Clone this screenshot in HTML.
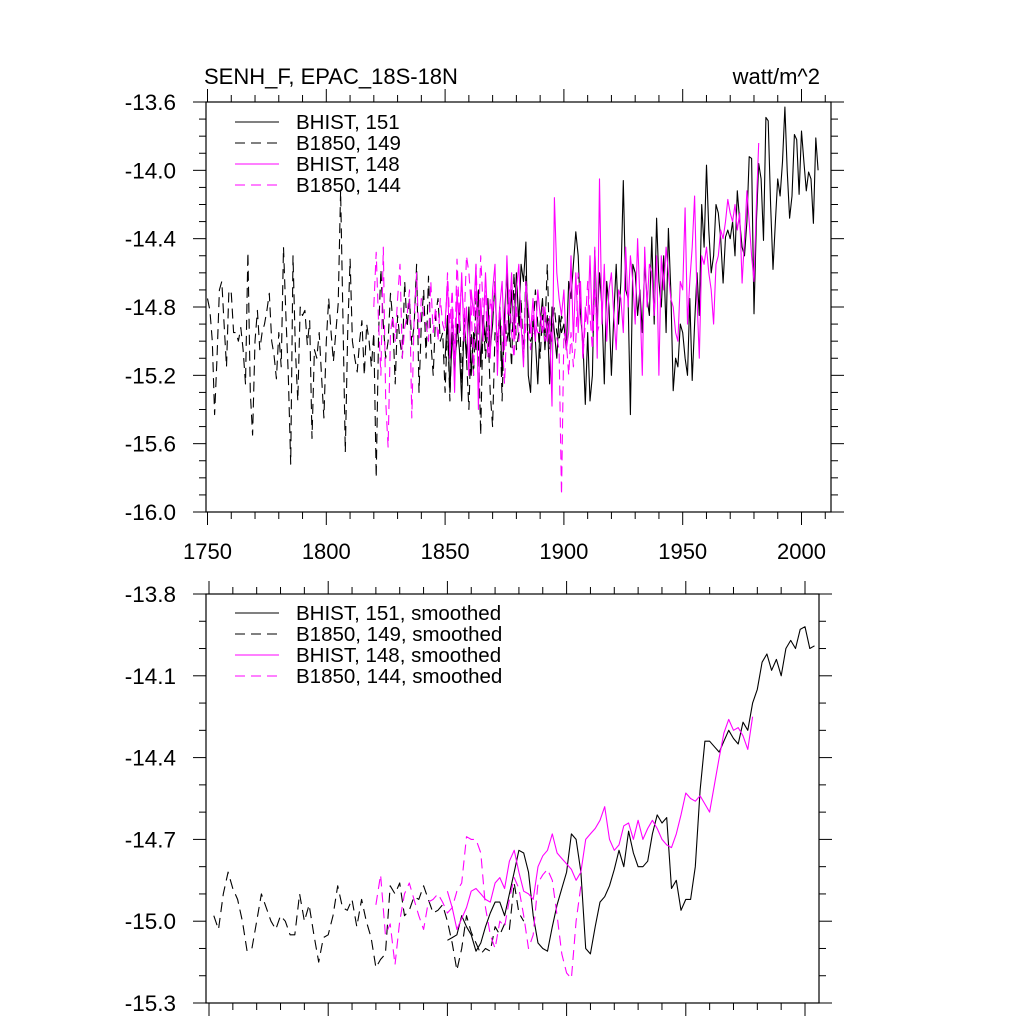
<!DOCTYPE html>
<html><head><meta charset="utf-8"><style>
html,body{margin:0;padding:0;background:#fff;}
svg{display:block;font-family:"Liberation Sans",sans-serif;}
</style></head><body>
<svg id="chart" width="1024" height="1024" viewBox="0 0 1024 1024" xmlns="http://www.w3.org/2000/svg">
<defs>
<clipPath id="clipTop"><rect x="206" y="102" width="625" height="410"/></clipPath>
<clipPath id="clipBot"><rect x="206" y="594" width="613" height="409"/></clipPath>
</defs>
<text x="204" y="84" font-size="22">SENH_F, EPAC_18S-18N</text>
<text x="820" y="84" font-size="22" text-anchor="end">watt/m^2</text>
<g id="top"></g>
<g id="bot"></g>
</svg>
<script>
// ---- top panel data (annual) ----
const b149Start = 1750;
const b149Vals = [-14.75,-14.82,-15.0,-15.43,-15.1,-14.7,-14.65,-14.9,-15.15,-14.7,
-14.72,-14.95,-14.95,-15.0,-14.92,-15.05,-15.25,-14.48,-15.3,-15.55,
-15.0,-14.82,-15.05,-14.95,-14.9,-14.82,-14.72,-15.0,-15.08,-15.22,
-14.95,-15.15,-14.45,-14.85,-15.2,-15.72,-14.5,-15.05,-15.35,-14.8,
-14.85,-14.82,-15.02,-14.88,-15.57,-15.05,-15.1,-14.95,-15.2,-15.45,
-15.0,-14.75,-14.95,-15.12,-14.95,-14.78,-14.12,-14.85,-15.65,-14.95,
-14.52,-15.0,-15.1,-15.18,-15.0,-14.88,-15.2,-14.9,-15.0,-15.15,
-14.95,-15.8,-14.95,-14.58,-14.9,-15.1,-15.0,-14.72,-14.88,-15.25,
-14.85,-15.0,-15.1,-14.65,-14.92,-14.75,-15.02,-14.9,-14.55,-15.3,
-14.9,-14.7,-15.1,-14.62,-15.0,-15.2,-14.85,-14.75,-15.0,-14.95,
-15.3,-14.9,-15.35,-14.85,-15.1,-15.0,-14.78,-15.25,-14.85,-15.1,
-15.4,-14.95,-15.2,-14.75,-15.0,-15.55,-14.85,-15.1,-14.9,-15.3,
-15.5,-14.95,-15.05,-14.8,-15.35,-14.85,-15.0,-14.9,-15.15,-14.6,
-15.05,-14.95,-14.75,-15.1,-14.6,-14.85,-15.0,-14.95,-14.7,-14.9,
-15.1,-14.85,-14.95,-14.55,-15.05,-14.9,-14.8,-14.95,-15.0,-14.85,-14.9];
const b144Start = 1820;
const b144Vals = [-14.8,-14.48,-14.9,-15.2,-14.45,-15.35,-15.62,-14.95,-14.85,-15.0,
-14.75,-14.55,-15.1,-14.92,-14.85,-14.7,-15.45,-14.85,-14.6,-15.0,
-14.75,-14.85,-14.9,-15.0,-14.65,-14.95,-14.8,-15.0,-14.75,-14.9,
-14.95,-14.6,-14.9,-14.7,-15.1,-14.52,-14.85,-14.65,-14.9,-14.5,
-14.6,-14.8,-15.2,-14.55,-14.95,-14.5,-14.8,-14.7,-15.1,-14.75,
-14.85,-14.65,-15.05,-14.8,-14.95,-15.25,-14.9,-14.7,-14.95,-15.1,
-14.8,-15.0,-14.85,-15.1,-14.9,-14.95,-15.05,-14.85,-14.9,-14.95,
-14.95,-14.8,-15.0,-14.92,-14.85,-15.0,-15.0,-14.98,-15.05,-15.9,
-14.95,-15.0,-15.2,-14.95,-15.15,-15.0,-14.6,-14.75,-15.1,-14.9,-14.65,-14.85,-15.05,-14.7,-14.95,-14.9];
const h151Start = 1850;
const h151Vals = [-15.1,-14.85,-15.3,-14.95,-15.2,-14.9,-15.05,-15.35,-14.9,-15.1,
-14.8,-15.2,-14.95,-15.05,-14.7,-15.15,-14.85,-15.0,-14.75,-15.05,
-14.9,-14.65,-15.1,-14.8,-15.2,-14.85,-14.6,-15.0,-14.7,-14.95,
-14.6,-14.9,-14.55,-14.65,-14.42,-15.2,-15.3,-14.85,-15.0,-15.25,
-14.9,-14.75,-15.05,-14.85,-15.25,-14.8,-14.95,-15.1,-14.85,-14.95,
-14.9,-15.05,-14.65,-14.75,-14.55,-14.36,-14.5,-14.85,-15.0,-15.37,
-14.95,-15.35,-15.2,-14.47,-14.9,-14.6,-14.8,-15.25,-14.65,-14.8,
-15.2,-14.85,-14.55,-14.9,-14.65,-14.06,-14.7,-14.75,-15.43,-14.55,
-14.6,-14.85,-14.7,-14.95,-14.55,-14.75,-14.85,-14.39,-14.9,-14.28,
-14.65,-14.8,-14.5,-14.95,-14.34,-14.7,-15.29,-15.1,-15.15,-14.9,
-14.95,-15.1,-15.2,-14.75,-15.23,-14.9,-14.6,-14.85,-14.2,-14.45,
-13.97,-14.35,-14.6,-14.5,-14.2,-14.25,-14.4,-14.66,-14.39,-14.35,
-14.4,-14.3,-14.5,-14.12,-14.3,-14.45,-14.5,-14.3,-13.92,-13.93,
-14.84,-14.3,-13.96,-14.05,-14.41,-13.69,-13.71,-14.2,-14.58,-14.3,
-14.05,-14.15,-13.95,-13.63,-14.0,-14.28,-14.15,-13.79,-13.82,-14.14,
-13.77,-13.95,-14.12,-14.01,-14.05,-14.31,-13.81,-14.0];
const h148Start = 1850;
const h148Vals = [-14.9,-14.65,-15.1,-14.8,-15.3,-14.7,-14.95,-14.6,-15.0,-14.8,
-15.2,-14.7,-14.85,-14.55,-15.4,-14.75,-15.0,-14.6,-14.9,-15.1,
-14.7,-14.55,-15.2,-14.8,-14.65,-15.05,-14.5,-14.85,-14.6,-15.0,
-14.7,-14.55,-14.9,-15.15,-14.65,-14.8,-14.95,-14.75,-15.0,-14.7,
-14.85,-14.95,-14.8,-15.0,-14.9,-15.38,-14.16,-14.6,-14.75,-14.85,
-14.7,-15.05,-14.95,-14.5,-15.0,-14.6,-14.95,-14.65,-15.1,-14.8,
-14.9,-14.5,-14.95,-14.45,-15.1,-14.05,-14.9,-14.55,-15.0,-14.7,
-14.6,-14.85,-15.05,-14.7,-14.75,-14.95,-14.45,-14.8,-14.5,-14.65,
-14.9,-14.4,-14.75,-15.2,-14.45,-14.8,-14.55,-14.6,-14.85,-14.5,
-15.2,-14.5,-14.7,-14.45,-14.6,-14.75,-14.8,-14.95,-15.0,-14.65,
-14.7,-14.22,-14.9,-14.65,-14.45,-14.15,-14.75,-15.1,-14.5,-14.55,
-14.45,-14.6,-14.7,-14.9,-14.55,-14.5,-14.35,-14.4,-14.3,-14.17,
-14.25,-14.3,-14.2,-14.35,-14.25,-14.66,-14.4,-14.12,-14.3,-14.5,
-14.65,-14.2,-13.84];
// ---- bottom panel data (smoothed, 2-year step) ----
const sStep = 2;
const sb149Start = 1752;
const sb149Vals = [-14.98,-15.03,-14.9,-14.82,-14.88,-14.92,-15.0,-15.11,-15.1,-15.0,-14.9,-14.95,-15.0,-15.03,-14.98,-15.0,-15.05,-15.05,-14.9,-15.0,-14.94,-15.05,-15.15,-15.06,-15.05,-14.98,-14.87,-14.95,-14.96,-14.92,-15.02,-14.92,-15.0,-15.06,-15.17,-15.14,-15.12,-14.87,-14.9,-14.86,-14.98,-14.96,-14.91,-14.92,-14.87,-14.92,-14.97,-14.96,-14.94,-15.0,-15.08,-15.18,-15.1,-14.98,-15.04,-15.08,-15.12,-15.1,-15.11,-15.02,-15.05,-15.01,-15.03,-14.86,-14.97,-15.0];
const sb144Start = 1820;
const sb144Vals = [-14.94,-14.83,-15.05,-15.01,-15.16,-15.0,-14.9,-14.86,-14.92,-14.98,-15.03,-14.93,-14.92,-14.9,-14.93,-14.97,-14.95,-14.89,-14.86,-14.69,-14.7,-14.7,-14.75,-14.95,-15.05,-15.1,-15.0,-15.02,-14.92,-14.84,-14.88,-14.98,-15.1,-15.05,-14.86,-14.83,-14.81,-14.85,-14.98,-15.12,-15.19,-15.21,-15.0,-14.87];
const sh151Start = 1850;
const sh151Vals = [-15.07,-15.06,-15.05,-14.98,-15.02,-15.05,-15.11,-15.08,-15.02,-14.97,-14.93,-14.93,-14.98,-14.9,-14.82,-14.74,-14.75,-14.82,-14.98,-15.08,-15.1,-15.11,-15.02,-14.94,-14.88,-14.82,-14.68,-14.7,-14.82,-15.1,-15.12,-15.02,-14.93,-14.91,-14.87,-14.81,-14.74,-14.8,-14.67,-14.75,-14.8,-14.8,-14.78,-14.68,-14.61,-14.64,-14.62,-14.88,-14.85,-14.96,-14.92,-14.92,-14.8,-14.52,-14.34,-14.34,-14.36,-14.38,-14.34,-14.3,-14.33,-14.35,-14.27,-14.3,-14.2,-14.15,-14.05,-14.02,-14.08,-14.04,-14.1,-14.0,-13.97,-14.0,-13.93,-13.92,-14.0,-13.99];
const sh148Start = 1850;
const sh148Vals = [-14.89,-14.95,-15.03,-14.99,-14.95,-14.89,-14.88,-14.9,-14.92,-14.93,-14.86,-14.84,-14.88,-14.78,-14.74,-14.82,-14.89,-14.9,-14.92,-14.8,-14.76,-14.74,-14.68,-14.75,-14.77,-14.79,-14.81,-14.85,-14.82,-14.7,-14.68,-14.66,-14.63,-14.58,-14.7,-14.74,-14.72,-14.65,-14.64,-14.7,-14.63,-14.7,-14.66,-14.63,-14.66,-14.7,-14.72,-14.73,-14.68,-14.61,-14.53,-14.55,-14.56,-14.54,-14.57,-14.6,-14.5,-14.4,-14.31,-14.26,-14.3,-14.29,-14.32,-14.37,-14.25];
const topYTicks = ["-13.6","-14.0","-14.4","-14.8","-15.2","-15.6","-16.0"];
const botYTicks = ["-13.8","-14.1","-14.4","-14.7","-15.0","-15.3"];
const xTickLabels = ["1750","1800","1850","1900","1950","2000"];
const topLegend = ["BHIST, 151","B1850, 149","BHIST, 148","B1850, 144"];
const botLegend = ["BHIST, 151, smoothed","B1850, 149, smoothed","BHIST, 148, smoothed","B1850, 144, smoothed"];

const NS="http://www.w3.org/2000/svg";
function mk(tag, parent, attrs){const e=document.createElementNS(NS,tag);for(const k in attrs)e.setAttribute(k,attrs[k]);parent.appendChild(e);return e;}

function panel(g, P){
  const sx = yr => P.x0 + (yr-1750)*(P.x1-P.x0)/250;
  const sy = v => P.top + (P.ymax - v)*(P.bot-P.top)/(P.ymax-P.ymin);
  const tk = mk('g', g, {stroke:'#000','stroke-width':1});
  
  
  for(let yr=1750; sx(yr)<=P.right+0.5; yr+=10){
    const maj = yr%50===0, L = maj?13:7, x=sx(yr);
    mk('line',tk,{x1:x,x2:x,y1:P.top,y2:P.top-L});
    if(P.bottomTicks) mk('line',tk,{x1:x,x2:x,y1:P.bot,y2:P.bot+L});
  }
  const nMinor = Math.round((P.ymax-P.ymin)/0.1);
  for(let i=0;i<=nMinor;i++){
    const v = P.ymax - i*0.1, y = sy(v);
    const maj = i%P.majEvery===0, L = maj?13:7;
    mk('line',tk,{x1:P.left,x2:P.left-L,y1:y,y2:y});
    mk('line',tk,{x1:P.right,x2:P.right+L,y1:y,y2:y});
  }
  const fr = mk('rect', g, {x:P.left,y:P.top,width:P.right-P.left,height:P.bot-P.top,fill:'none',stroke:'#000','stroke-width':1.2});
  
  
  P.yTicks.forEach(lab=>{
    const t = mk('text', g, {x:176,y:sy(parseFloat(lab))+8,'font-size':22.5,'text-anchor':'end'});
    t.textContent = lab;
    
    
  });
  if(P.xLabels){
    xTickLabels.forEach(lab=>{
      const t = mk('text', g, {x:sx(+lab),y:P.bot+47,'font-size':22,'text-anchor':'middle'});
      t.textContent = lab;
      
      
    });
  }
  const sg = mk('g', g, {'clip-path':'url(#'+P.clip+')'});
  
  
  P.series.forEach(s=>{
    const pts = s.vals.map((v,i)=>sx(s.start+i*s.step).toFixed(1)+','+sy(v).toFixed(1)).join(' ');
    const pl = mk('polyline', sg, {points:pts,fill:'none',stroke:s.color,'stroke-width':1.1,'stroke-dasharray':s.dash||'none','stroke-linejoin':'round'});
    
    
  });
  P.legend.forEach((lab,i)=>{
    const s = P.series[i], y = P.legY + i*21;
    const lg = mk('g', g, {});
    
    
    mk('line', lg, {x1:235,x2:279,y1:y,y2:y,stroke:s.color,'stroke-width':1.1,'stroke-dasharray':s.dash||'none'});
    const t = mk('text', lg, {x:P.legX,y:y+7,'font-size':P.legFont});
    t.textContent = lab;
  });
}

panel(document.getElementById('top'), {
  x0:207.5, x1:801.5, left:206, right:831, top:102, bot:512, ymax:-13.6, ymin:-16.0, majEvery:4,
  yTicks:topYTicks, xLabels:true, bottomTicks:true, legend:topLegend, legX:296, legY:122, legFont:20.5, clip:'clipTop',
  series:[
    {name:'bhist-151-line',vals:h151Vals,start:h151Start,step:1,color:'#000'},
    {name:'b1850-149-line',vals:b149Vals,start:b149Start,step:1,color:'#000',dash:'10 6'},
    {name:'bhist-148-line',vals:h148Vals,start:h148Start,step:1,color:'#ff00ff'},
    {name:'b1850-144-line',vals:b144Vals,start:b144Start,step:1,color:'#ff00ff',dash:'10 6'}
  ]
});
panel(document.getElementById('bot'), {
  x0:209, x1:805, left:206, right:819, top:594, bot:1003, ymax:-13.8, ymin:-15.3, majEvery:3,
  yTicks:botYTicks, xLabels:false, bottomTicks:true, legend:botLegend, legX:296, legY:613, legFont:20.5, clip:'clipBot',
  series:[
    {name:'bhist-151-smoothed',vals:sh151Vals,start:sh151Start,step:sStep,color:'#000'},
    {name:'b1850-149-smoothed',vals:sb149Vals,start:sb149Start,step:sStep,color:'#000',dash:'10 6'},
    {name:'bhist-148-smoothed',vals:sh148Vals,start:sh148Start,step:sStep,color:'#ff00ff'},
    {name:'b1850-144-smoothed',vals:sb144Vals,start:sb144Start,step:sStep,color:'#ff00ff',dash:'10 6'}
  ]
});
</script>
</body></html>
